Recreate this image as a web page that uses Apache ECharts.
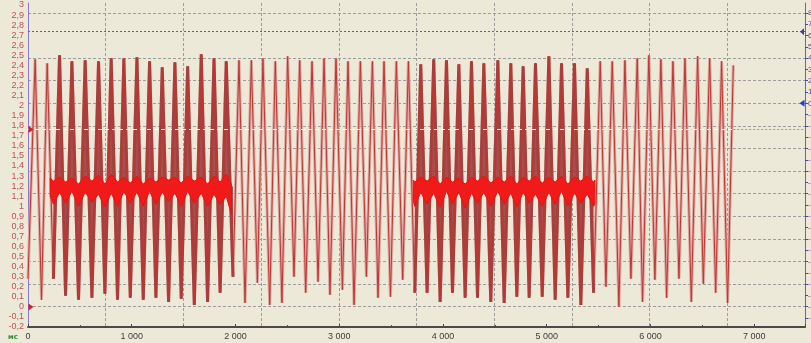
<!DOCTYPE html>
<html>
<head>
<meta charset="utf-8">
<title>Осциллограмма</title>
<script src="https://cdn.jsdelivr.net/npm/echarts@6/dist/echarts.min.js"></script>
<style>
  html, body { margin: 0; padding: 0; background: #ece9d8; }
  #chart { width: 811px; height: 343px; }
</style>
</head>
<body>
<div id="chart"></div>
<script>
// slow wave: turning points (time in ms, volts)
const waveTime = [
  0, 69, 130, 185, 245, 304, 362, 423, 487, 551, 616, 680, 741, 802, 863, 924,
  986, 1050, 1111, 1172, 1233, 1294, 1355, 1416, 1477, 1539, 1603, 1670, 1731, 1793,
  1852, 1911, 1976, 2034, 2092, 2153, 2211, 2265, 2330, 2384, 2448, 2503, 2564, 2619,
  2677, 2738, 2796, 2854, 2911, 2969, 3031, 3085, 3143, 3204, 3262, 3320, 3374, 3432,
  3494, 3551, 3612, 3667, 3728, 3786, 3847, 3911, 3973, 4034, 4092, 4153, 4214, 4275,
  4333, 4394, 4461, 4529, 4590, 4654, 4712, 4773, 4831, 4892, 4957, 5021, 5082, 5143,
  5204, 5268, 5329, 5391, 5452, 5516, 5571, 5632, 5696, 5754, 5812, 5873, 5924, 5985,
  6043, 6101, 6156, 6217, 6275, 6333, 6394, 6455, 6510, 6571, 6629, 6686, 6744, 6799
]
const waveVolt = [
  0.28, 2.46, 0.07, 2.42, 0.28, 2.50, 0.11, 2.44, 0.07, 2.45, 0.09, 2.44, 0.13, 2.47, 0.07, 2.47,
  0.09, 2.48, 0.07, 2.44, 0.09, 2.38, 0.05, 2.43, 0.08, 2.39, 0.02, 2.51, 0.05, 2.47,
  0.14, 2.44, 0.30, 2.45, 0.04, 2.45, 0.24, 2.47, 0.02, 2.44, 0.04, 2.49, 0.30, 2.45,
  0.14, 2.44, 0.25, 2.47, 0.12, 2.47, 0.17, 2.44, 0.02, 2.44, 0.30, 2.44, 0.09, 2.44,
  0.10, 2.44, 0.27, 2.44, 0.14, 2.41, 0.14, 2.46, 0.05, 2.45, 0.14, 2.41, 0.09, 2.44,
  0.09, 2.42, 0.05, 2.45, 0.04, 2.42, 0.10, 2.39, 0.09, 2.42, 0.10, 2.49, 0.07, 2.42,
  0.09, 2.42, 0.02, 2.37, 0.14, 2.44, 0.20, 2.44, 0.00, 2.45, 0.28, 2.47, 0.05, 2.50,
  0.27, 2.46, 0.09, 2.44, 0.28, 2.47, 0.05, 2.49, 0.23, 2.47, 0.14, 2.44, 0.04, 2.40
]
// spans of the high-frequency bursts, ms
const burstSpans = [[245, 1976], [3728, 5452]]

// bright noise band around 1.2 V inside each burst
const band1Time = [214, 245, 304, 362, 423, 487, 551, 616, 680, 741, 802, 863, 924, 986, 1050,
  1111, 1172, 1233, 1294, 1355, 1416, 1477, 1539, 1603, 1670, 1731, 1793, 1852, 1911, 1960]
const band1Low = [1.10, 1.02, 1.14, 1.03, 1.15, 1.00, 1.14, 1.04, 1.12, 0.99, 1.13, 1.00, 1.15, 1.03, 1.14,
  1.00, 1.15, 1.02, 1.14, 1.05, 1.13, 1.00, 1.15, 1.03, 1.13, 1.00, 1.12, 1.02, 1.10, 0.92]
const band1High = [1.28, 1.25, 1.29, 1.24, 1.28, 1.22, 1.30, 1.25, 1.31, 1.22, 1.32, 1.24, 1.29, 1.23, 1.30,
  1.22, 1.28, 1.24, 1.29, 1.26, 1.29, 1.23, 1.30, 1.25, 1.29, 1.22, 1.30, 1.24, 1.32, 1.22]
const band2Time = [3715, 3728, 3786, 3847, 3911, 3973, 4034, 4092, 4153, 4214, 4275, 4333, 4394, 4461, 4529,
  4590, 4654, 4712, 4773, 4831, 4892, 4957, 5021, 5082, 5143, 5204, 5268, 5329, 5391, 5452, 5465]
const band2Low = [1.05, 1.00, 1.14, 1.02, 1.13, 0.99, 1.15, 1.02, 1.14, 0.98, 1.13, 1.03, 1.14, 1.00, 1.15,
  1.02, 1.13, 0.99, 1.14, 1.03, 1.12, 1.00, 1.14, 1.02, 1.15, 1.00, 1.13, 1.03, 1.12, 1.00, 1.02]
const band2High = [1.26, 1.24, 1.29, 1.25, 1.30, 1.22, 1.29, 1.24, 1.28, 1.22, 1.29, 1.25, 1.30, 1.23, 1.29,
  1.24, 1.30, 1.22, 1.29, 1.25, 1.30, 1.23, 1.29, 1.24, 1.30, 1.22, 1.29, 1.25, 1.30, 1.24, 1.26]

// right (second channel) scale ticks and grid
const rightTicks = [-19, -18, -17, -16, -15, -14, -13, -12, -11, -10, -9, -8, -7, -6, -5, -4, -3, -2, -1, 0, 1, 2, 3, 4, 5, 6, 7, 8]
const gridLevels = [-18, -16, -14, -12, -10, -8, -6, -4, -2, 0, 2, 4, 8]

const cursorLevel = 2.735   // blue dotted cursor, V
const triggerLevel = 1.763  // trigger level, V
const traceEnd = 6799

const timeMax = 7490
const voltMin = -0.2
const voltMax = 3.02
const rightMin = -19.8
const rightMax = 8.88

const wave = waveTime.map((t, i) => [t, waveVolt[i]])
const bands = [
  { t: band1Time, lo: band1Low, hi: band1High },
  { t: band2Time, lo: band2Low, hi: band2High }
]

const chart = echarts.init(document.getElementById('chart'))

const series = []
// soft halo of the trace
series.push({
  type: 'line', data: wave, symbol: 'none', silent: true,
  lineStyle: { color: '#e0a6a0', width: 3 }, z: 2
})
// dense burst fill (drawn to the 1.2 V mid level)
burstSpans.forEach(function(span) {
  series.push({
    type: 'line',
    data: wave.filter(p => p[0] >= span[0] && p[0] <= span[1]),
    symbol: 'none', silent: true,
    lineStyle: { color: '#a5413f', width: 3 },
    areaStyle: { origin: 1.2, color: '#9e3838', opacity: 0.88 },
    z: 3
  })
})
// main trace
series.push({
  type: 'line', data: wave, symbol: 'none', silent: true,
  lineStyle: { color: '#bd3632', width: 1 }, z: 4
})
// noise band, polygon between its low and high edges
series.push({
  type: 'custom', silent: true, z: 5,
  data: bands.map((b, k) => [b.t[0], b.lo[0]]),
  renderItem: function(params, api) {
    const b = bands[params.dataIndex]
    const upper = b.t.map((t, i) => api.coord([t, b.hi[i]]))
    const lower = b.t.map((t, i) => api.coord([t, b.lo[i]])).reverse()
    return {
      type: 'polygon',
      shape: { points: upper.concat(lower) },
      style: { fill: '#f01a1a', stroke: '#e81212', lineWidth: 1 }
    }
  }
})
// cursors and markers
series.push({
  type: 'line', data: [], silent: true, z: 6,
  markLine: {
    silent: true, symbol: 'none', animation: false,
    label: { show: false },
    data: [
      [{ coord: [0, cursorLevel], lineStyle: { color: '#5a5ad0', type: [2, 2], width: 1 } }, { coord: [timeMax, cursorLevel] }],
      [{ coord: [0, triggerLevel], lineStyle: { color: '#ffffff', type: [4, 3], width: 1 } }, { coord: [traceEnd, triggerLevel] }],
      [{ coord: [traceEnd, triggerLevel], lineStyle: { color: '#d08080', type: [2, 2], width: 1 } }, { coord: [timeMax, triggerLevel] }]
    ]
  },
  markPoint: {
    silent: true, animation: false, label: { show: false },
    data: [
      { coord: [0, triggerLevel], symbol: 'triangle', symbolSize: [7, 5], symbolRotate: -90, symbolOffset: [3, 0], itemStyle: { color: '#d02020' } },
      { coord: [0, 0], symbol: 'triangle', symbolSize: [7, 5], symbolRotate: -90, symbolOffset: [3, 0], itemStyle: { color: '#d02020' } },
      { coord: [timeMax, cursorLevel], symbol: 'triangle', symbolSize: [7, 4], symbolRotate: 90, symbolOffset: [-3, 0], itemStyle: { color: '#3a3ac0' } }
    ]
  }
})
series.push({
  type: 'line', data: [], yAxisIndex: 1, silent: true, z: 6,
  markPoint: {
    silent: true, animation: false, label: { show: false },
    data: [
      { coord: [timeMax, 0], symbol: 'triangle', symbolSize: [7, 5], symbolRotate: 90, symbolOffset: [-3, 0], itemStyle: { color: '#1c3cd8' } }
    ]
  }
})

chart.setOption({
  backgroundColor: '#ece9d8',
  animation: false,
  grid: { left: 28, right: 6, top: 3, bottom: 16, containLabel: false, outerBoundsMode: 'none' },
  xAxis: [
    {
      type: 'value', min: 0, max: timeMax, interval: 1000, position: 'bottom',
      axisLine: { onZero: false, lineStyle: { color: '#4a4a4a', width: 2 } },
      axisTick: { show: true, inside: true, length: 3, lineStyle: { color: '#4a4a4a' } },
      minorTick: { show: true, splitNumber: 2, length: 2, lineStyle: { color: '#4a4a4a' } },
      axisLabel: {
        color: '#3c3c3c', fontSize: 9, fontFamily: 'Liberation Sans', margin: 5,
        showMaxLabel: false,
        formatter: v => String(v).replace(/\B(?=(\d{3})+$)/g, ' ')
      },
      splitLine: { show: false }
    },
    {
      type: 'value', min: 0, max: timeMax, interval: 749, position: 'top',
      axisLine: { show: false, onZero: false }, axisTick: { show: false }, axisLabel: { show: false },
      splitLine: { show: true, lineStyle: { color: '#9c9c9c', type: [3, 2], width: 1 } }
    }
  ],
  yAxis: [
    {
      type: 'value', min: voltMin, max: voltMax, interval: 0.1, position: 'left',
      axisLine: { show: true, onZero: false, lineStyle: { color: '#8678c8', width: 1 } },
      axisTick: { show: false },
      axisLabel: {
        color: '#bf5050', fontSize: 9, fontFamily: 'Liberation Sans', margin: 4,
        showMaxLabel: false,
        formatter: function(v) {
          const r = Math.round(v * 10) / 10
          return Number.isInteger(r) ? String(r) : r.toFixed(1).replace('.', ',')
        }
      },
      splitLine: { show: false }
    },
    {
      type: 'value', min: rightMin, max: rightMax, position: 'right',
      axisLine: { show: true, onZero: false, lineStyle: { color: '#2f9a34', width: 1 } },
      axisTick: { show: true, length: 3, customValues: rightTicks, lineStyle: { color: '#3a4ac8' } },
      axisLabel: {
        color: '#4a4a8a', fontSize: 8, fontFamily: 'Liberation Sans', margin: 3,
        customValues: rightTicks
      },
      splitLine: { show: false }
    },
    {
      type: 'value', min: rightMin, max: rightMax, position: 'right',
      axisLine: { show: false, onZero: false },
      axisTick: { show: false, customValues: gridLevels },
      axisLabel: { show: false, customValues: gridLevels },
      splitLine: { show: true, lineStyle: { color: '#9c9c9c', type: [3, 2], width: 1 } }
    }
  ],
  graphic: [
    { type: 'text', left: 8, top: 334, style: { text: 'мс', fill: '#2d8a2d', font: 'bold 7px "DejaVu Sans"' } }
  ],
  series: series
})
</script>
</body>
</html>
